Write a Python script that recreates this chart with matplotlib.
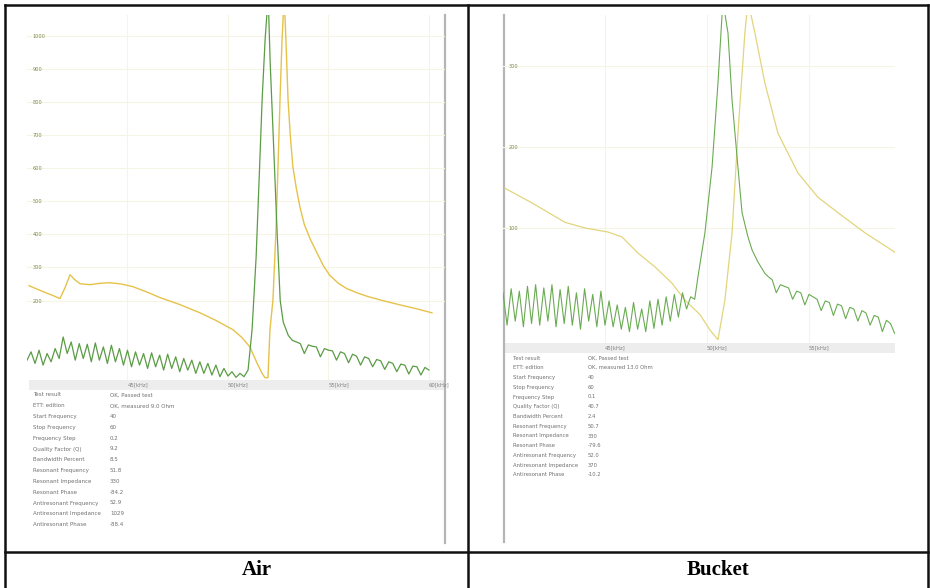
"""Air vs bucket: two impedance-analyzer screenshots side by side in a table"""

import numpy as np
import matplotlib.pyplot as plt

# ---- Air: impedance (yellow) and admittance (green), kHz vs arbitrary units
air_imp_f = [40.1, 40.8, 41.3, 41.64, 41.9, 42.14, 42.4, 42.64, 43.13, 43.6, 44.13,
             44.7, 45.27, 46.0, 46.62, 47.6, 48.61, 49.4, 50.25, 50.7, 51.09, 51.44,
             51.7, 51.84, 51.99, 52.09, 52.24, 52.39, 52.49, 52.59, 52.69, 52.8,
             52.9, 52.99, 53.1, 53.23, 53.4, 53.58, 53.8, 54.1, 54.43, 54.75, 55.07,
             55.5, 55.92, 56.4, 56.92, 57.7, 58.56, 59.4, 60.15]
air_imp_v = [245, 227, 215, 206, 240, 278, 262, 251, 248, 252, 254,
             250, 242, 225, 209, 188, 163, 140, 112, 88, 60, 12,
             -20, -33, -33, 112, 203, 414, 604, 807, 988, 1120,
             960, 807, 700, 604, 540, 483, 430, 385, 344, 305, 276,
             252, 236, 224, 213, 200, 187, 175, 163]

air_adm_f = [40.0, 40.2, 40.4, 40.6, 40.8, 41.0, 41.2, 41.4, 41.6, 41.8, 42.0, 42.2,
             42.4, 42.6, 42.8, 43.0, 43.2, 43.4, 43.6, 43.8, 44.0, 44.2, 44.4, 44.6,
             44.8, 45.0, 45.2, 45.4, 45.6, 45.8, 46.0, 46.2, 46.4, 46.6, 46.8, 47.0,
             47.2, 47.4, 47.6, 47.8, 48.0, 48.2, 48.4, 48.6, 48.8, 49.0, 49.2, 49.4,
             49.6, 49.8, 50.0, 50.2, 50.4, 50.6, 50.8, 51.0,
             51.2, 51.4, 51.55, 51.7, 51.85, 52.0, 52.1, 52.25, 52.45, 52.6, 52.75,
             53.0, 53.2, 53.4, 53.6, 53.8, 54.0, 54.2, 54.4, 54.6, 54.8, 55.0, 55.2,
             55.4, 55.6, 55.8, 56.0, 56.2, 56.4, 56.6, 56.8, 57.0, 57.2, 57.4, 57.6,
             57.8, 58.0, 58.2, 58.4, 58.6, 58.8, 59.0, 59.2, 59.4, 59.6, 59.8, 60.0]
air_adm_v = [20, 45, 10, 50, 5, 40, 15, 55, 25, 90, 40, 75,
             20, 70, 25, 68, 15, 72, 20, 60, 10, 65, 15, 55,
             5, 50, 0, 45, 5, 40, -5, 42, 0, 35, -10, 38,
             -5, 30, -15, 25, -10, 20, -20, 15, -20, 10, -25, 5,
             -30, -5, -28, -15, -32, -20, -30, -10,
             112, 330, 565, 807, 990, 1120, 920, 700, 400, 200, 135,
             95, 80, 75, 70, 40, 66, 62, 60, 30, 55, 50, 48,
             20, 45, 40, 12, 38, 32, 5, 30, 25, 0, 22, 18,
             -8, 15, 10, -15, 8, 5, -22, 2, 0, -25, -2, -10]

air_yticks = [1000, 900, 800, 700, 600, 500, 400, 300, 200]
air_xticks = [45, 50, 55, 60]

# ---- Bucket
bkt_imp_f = [40.1, 41.42, 43.04, 44.02, 45.15, 45.83, 46.62, 47.45, 48.28, 48.92,
             49.66, 50.15, 50.54, 50.88, 51.23, 51.52, 51.86, 52.01, 52.35, 52.84,
             53.48, 54.46, 55.44, 56.42, 57.75, 59.22]
bkt_imp_v = [149, 131, 107, 100, 95, 89, 69, 52, 32, 11,
             -7, -26, -38, 11, 94, 217, 341, 380, 341, 279,
             217, 168, 138, 119, 94, 70]

bkt_adm_f = [40.0, 40.2, 40.4, 40.6, 40.8, 41.0, 41.2, 41.4, 41.6, 41.8, 42.0, 42.2,
             42.4, 42.6, 42.8, 43.0, 43.2, 43.4, 43.6, 43.8, 44.0, 44.2, 44.4, 44.6,
             44.8, 45.0, 45.2, 45.4, 45.6, 45.8, 46.0, 46.2, 46.4, 46.6, 46.8, 47.0,
             47.2, 47.4, 47.6, 47.8, 48.0, 48.2, 48.4, 48.6, 48.8, 49.0, 49.2,
             49.4, 49.56, 49.9, 50.25, 50.54, 50.78, 51.03, 51.23, 51.52, 51.72, 52.0,
             52.21, 52.5, 52.84,
             53.0, 53.2, 53.4, 53.6, 53.8, 54.0, 54.2, 54.4, 54.6, 54.8, 55.0, 55.2,
             55.4, 55.6, 55.8, 56.0, 56.2, 56.4, 56.6, 56.8, 57.0, 57.2, 57.4, 57.6,
             57.8, 58.0, 58.2, 58.4, 58.6, 58.8, 59.0, 59.2]
bkt_adm_v = [20, -20, 25, -15, 22, -22, 28, -18, 30, -20, 26, -15,
             30, -22, 24, -18, 28, -20, 20, -25, 25, -15, 18, -22,
             22, -20, 10, -22, 5, -25, 2, -28, 8, -25, 0, -28,
             10, -24, 12, -20, 15, -15, 18, -10, 20, 0, 15,
             12, 40, 94, 175, 279, 380, 341, 258, 175, 119, 90,
             73, 58, 44,
             40, 36, 20, 30, 28, 26, 12, 22, 20, 5, 18, 15,
             12, -2, 10, 8, -8, 6, 4, -12, 2, 0, -15, -2,
             -5, -20, -8, -10, -28, -14, -18, -30]

bkt_yticks = [300, 200, 100]
bkt_xticks = [45, 50, 55]

# ---- result tables under each screenshot
row_labels = ["Test result", "ETT: edition", "Start Frequency", "Stop Frequency",
              "Frequency Step", "Quality Factor (Q)", "Bandwidth Percent",
              "Resonant Frequency", "Resonant Impedance", "Resonant Phase",
              "Antiresonant Frequency", "Antiresonant Impedance", "Antiresonant Phase"]
air_values = ["OK, Passed test", "OK, measured 9.0 Ohm", "40", "60", "0.2", "9.2", "8.5",
              "51.8", "330", "-84.2", "52.9", "1029", "-88.4"]
bkt_values = ["OK, Passed test", "OK, measured 13.0 Ohm", "40", "60", "0.1", "40.7", "2.4",
              "50.7", "330", "-79.6", "52.0", "370", "-10.2"]

captions = ["Air", "Bucket"]

W, H = 930, 588
fig = plt.figure(figsize=(W / 100, H / 100), dpi=100)

# background layer in pixel coordinates for table lines, strips and text
bg = fig.add_axes([0, 0, 1, 1])
bg.set_xlim(0, W)
bg.set_ylim(H, 0)
bg.axis('off')


def px_axes(x0, y0, x1, y1):
    return fig.add_axes([x0 / W, 1 - y1 / H, (x1 - x0) / W, (y1 - y0) / H])


# table borders
lc = '#111111'
bg.plot([5, 928], [5, 5], color=lc, lw=1.8)
bg.plot([5, 5], [5, 588], color=lc, lw=1.8)
bg.plot([928, 928], [5, 588], color=lc, lw=1.8)
bg.plot([468, 468], [5, 588], color=lc, lw=1.8)
bg.plot([5, 928], [552, 552], color=lc, lw=1.8)

# grey frame edges of screenshots and axis strips
bg.plot([445, 445], [15, 543], color='#b5b5b5', lw=1.6)
bg.plot([504, 504], [15, 542], color='#b5b5b5', lw=1.6)
bg.fill_between([29, 445], 380, 390, color='#ededed', lw=0)
bg.fill_between([504, 895], 343, 353, color='#ededed', lw=0)

yellow = '#e6c24a'
green = '#5b9c45'


def style(ax, xl, yl, yt, xt):
    ax.set_facecolor('none')
    for s in ax.spines.values():
        s.set_visible(False)
    ax.set_xlim(*xl)
    ax.set_ylim(*yl)
    ax.set_yticks(yt)
    ax.set_yticklabels([str(t) for t in yt])
    ax.set_xticks(xt)
    ax.set_xticklabels([f"{t}[kHz]" for t in xt])
    ax.tick_params(axis='y', length=0, pad=-4, labelsize=3.6, labelcolor='#7d8a4a')
    ax.tick_params(axis='x', length=0, pad=1.5, labelsize=3.8, labelcolor='#808080')
    for lbl in ax.get_yticklabels():
        lbl.set_horizontalalignment('left')
    for lbl in ax.get_xticklabels():
        lbl.set_horizontalalignment('left')
    ax.grid(True, color='#f6f4e4', lw=0.8)
    ax.set_axisbelow(True)


ax1 = px_axes(27, 15, 445, 380)
style(ax1, (40, 60.8), (-40, 1063), air_yticks, air_xticks)
ax1.plot(air_imp_f, air_imp_v, color=yellow, lw=1.0)
ax1.plot(air_adm_f, air_adm_v, color=green, lw=0.9)

ax2 = px_axes(503, 15, 895, 343)
style(ax2, (40, 59.22), (-42, 363), bkt_yticks, bkt_xticks)
ax2.plot(bkt_imp_f, bkt_imp_v, color='#e2d57c', lw=0.9)
ax2.plot(bkt_adm_f, bkt_adm_v, color='#6aab52', lw=0.8)

# result tables
tc = '#707070'
for i, (lab, a, b) in enumerate(zip(row_labels, air_values, bkt_values)):
    y = 395 + i * 10.8
    bg.text(33, y, lab, fontsize=4, color=tc, va='center')
    bg.text(110, y, a, fontsize=4, color=tc, va='center')
    y = 358 + i * 9.75
    bg.text(513, y, lab, fontsize=3.8, color=tc, va='center')
    bg.text(588, y, b, fontsize=3.8, color=tc, va='center')

bg.text(257, 570, captions[0], fontsize=15, fontweight='bold',
        family='Liberation Serif', ha='center', va='center')
bg.text(718, 570, captions[1], fontsize=15, fontweight='bold',
        family='Liberation Serif', ha='center', va='center')

fig.savefig('out.png', dpi=100)
